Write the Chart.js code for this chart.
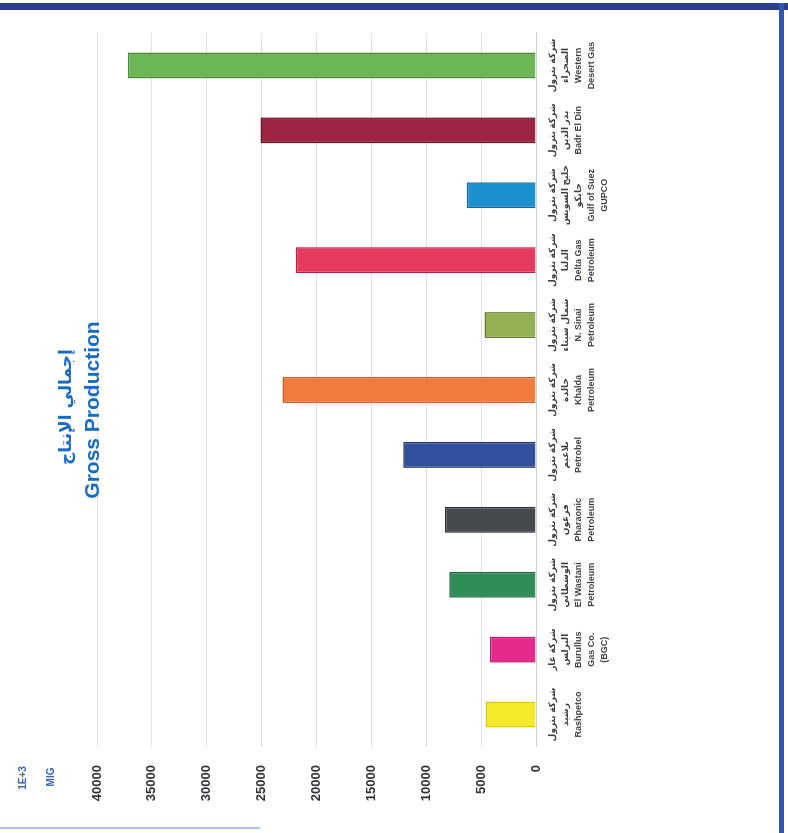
<!DOCTYPE html>
<html>
<head>
<meta charset="utf-8">
<script src="https://cdn.jsdelivr.net/npm/chart.js@4.4.1/dist/chart.umd.min.js"></script>
<style>
  html, body { margin: 0; padding: 0; background: #ffffff; overflow: hidden; }
  body { width: 788px; height: 833px; position: relative; }
  #rot { position: absolute; left: 0; top: 0; width: 833px; height: 788px;
         transform-origin: 0 0; transform: translate(0px, 833px) rotate(-90deg); }
  #topband { position: absolute; left: 0; top: 3px; width: 788px; height: 7px; background: #2c3f8c; }
  #rightband { position: absolute; left: 779px; top: 3px; width: 5px; height: 830px; background: #3156b0; }
  #bottomline { position: absolute; left: 0; top: 827px; width: 260px; height: 2px; background: #a9c4e6; }
</style>
</head>
<body>
<div id="rot"><canvas id="c" width="833" height="788"></canvas></div>
<div id="topband"></div>
<div id="rightband"></div>
<div id="bottomline"></div>
<script>
// ---- data (original chart order, left to right) ----
const categories = [
  ["شركة بترول", "رشيد", "Rashpetco"],
  ["شركة غاز", "البرلس", "Burullus", "Gas Co.", "(BGC)"],
  ["شركة بترول", "الوسطاني", "El Wastani", "Petroleum"],
  ["شركة بترول", "فرعون", "Pharaonic", "Petroleum"],
  ["شركة بترول", "بلاعيم", "Petrobel"],
  ["شركة بترول", "خالدة", "Khalda", "Petroleum"],
  ["شركة بترول", "شمال سيناء", "N. Sinai", "Petroleum"],
  ["شركة بترول", "الدلتا", "Delta Gas", "Petroleum"],
  ["شركة بترول", "خليج السويس", "جابكو", "Gulf of Suez", "GUPCO"],
  ["شركة بترول", "بدر الدين", "Badr El Din"],
  ["شركة بترول", "الصحراء", "Western", "Desert Gas"]
];
const grossProduction = [4600, 4200, 7900, 8300, 12100, 23100, 4700, 21900, 6300, 25100, 37200];
const barColors = ["#f4ea2a", "#e42b8c", "#2f8e57", "#46494d", "#33509f", "#f07b3c",
                   "#93b152", "#e43b5e", "#1c8fd0", "#9b2542", "#6cb655"];
const barBorders = ["#d8cc10", "#b81d6d", "#21683f", "#2e3033", "#1f3472", "#c85a22",
                    "#617a2e", "#b52342", "#12679a", "#6e1629", "#4b8c37"];
const yTicks = [0, 5000, 10000, 15000, 20000, 25000, 30000, 35000, 40000];
const titleArabic = "إجمالي الإنتاج";
const titleEnglish = "Gross Production";
const unitLines = ["1E+3", "MIG"];

const FONT = "'Liberation Sans', 'DejaVu Sans', Arial, sans-serif";

const titlePlugin = {
  id: 'titles',
  afterDraw(chart) {
    const ctx = chart.ctx;
    ctx.save();
    ctx.fillStyle = '#1a6cc0';
    ctx.textAlign = 'center';
    ctx.textBaseline = 'alphabetic';
    ctx.font = "bold 17px 'DejaVu Sans', sans-serif";
    ctx.fillText(titleArabic, 426, 71);
    ctx.font = "bold 21px " + FONT;
    ctx.fillText(titleEnglish, 423, 99);
    ctx.fillStyle = '#3a64b4';
    ctx.font = "bold 10px " + FONT;
    ctx.fillText(unitLines[0], 55, 26);
    ctx.fillText(unitLines[1], 56, 54);
    ctx.restore();
  }
};

new Chart(document.getElementById('c'), {
  type: 'bar',
  data: {
    labels: categories,
    datasets: [{
      data: grossProduction,
      backgroundColor: barColors,
      borderColor: barBorders,
      borderWidth: 1.5,
      barPercentage: 0.4,
      categoryPercentage: 1.0
    }]
  },
  options: {
    responsive: false,
    animation: false,
    devicePixelRatio: 1,
    layout: { padding: { top: 97, right: 33, left: 0, bottom: 0 } },
    plugins: { legend: { display: false }, title: { display: false }, tooltip: { enabled: false } },
    scales: {
      x: {
        grid: { display: false, drawTicks: false },
        border: { display: true, color: '#cfcfcf', width: 1 },
        ticks: {
          autoSkip: false, maxRotation: 0, minRotation: 0, padding: 10,
          color: '#3b3f44',
          font: { family: FONT, size: 9, weight: 'bold', lineHeight: 1.45 }
        },
        afterFit(scale) { scale.height = 252; }
      },
      y: {
        min: 0, max: 40000,
        afterBuildTicks(scale) { scale.ticks = yTicks.map(v => ({ value: v })); },
        grid: { color: '#e2e2e2', drawTicks: false },
        border: { display: false },
        ticks: {
          padding: 18, color: '#2f3236',
          font: { family: FONT, size: 13, weight: 'bold' },
          callback: (v) => String(v)
        },
        afterFit(scale) { scale.width = 86; }
      }
    }
  },
  plugins: [titlePlugin]
});
</script>
</body>
</html>
